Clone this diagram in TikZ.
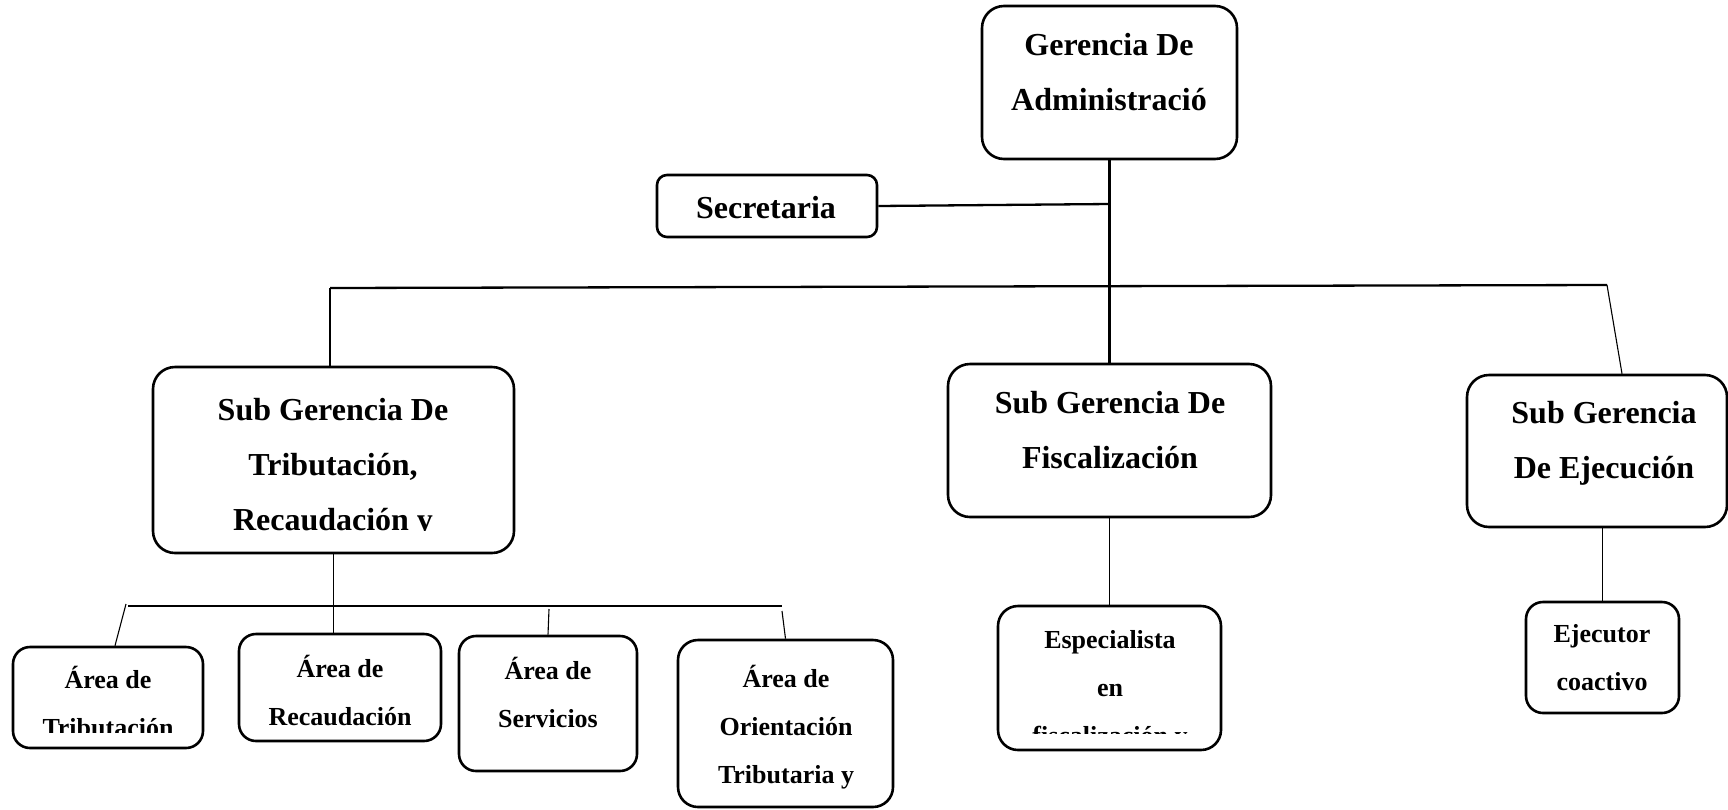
\documentclass[tikz,border=0pt]{standalone}
\usepackage{fontspec}
\setmainfont{Liberation Serif}
\usetikzlibrary{calc}

\begin{document}
\begin{tikzpicture}[x=1pt,y=-1pt,
    box/.style={draw,line width=2.6pt,rounded corners=22pt,inner sep=0pt},
    bigtext/.style={font=\fontsize{32}{55}\selectfont\bfseries,align=center,anchor=base,inner sep=0pt},
    smalltext/.style={font=\fontsize{26}{48}\selectfont\bfseries,align=center,anchor=base,inner sep=0pt},
    thickline/.style={line width=2.3pt},
    thinline/.style={line width=1.1pt}]
       \useasboundingbox (0,0) rectangle (1728,809);
       % boxes
       \node[box,minimum width=255pt,minimum height=153pt] (ger)     at (1109.5, 82.5) {};
       \node[box,minimum width=220pt,minimum height=62pt,rounded corners=10pt] (sec) at (767,206) {};
       \node[box,minimum width=361pt,minimum height=186pt] (subtrib) at ( 333.5,460  ) {};
       \node[box,minimum width=323pt,minimum height=153pt] (subfis)  at (1109.5,440.5) {};
       \node[box,minimum width=260pt,minimum height=152pt] (subeje)  at (1597  ,451  ) {};
       \node[box,minimum width=190pt,minimum height=101pt,rounded corners=17pt] (atrib) at ( 108  ,697.5) {};
       \node[box,minimum width=202pt,minimum height=107pt,rounded corners=17pt] (arec)  at ( 340  ,687.5) {};
       \node[box,minimum width=178pt,minimum height=135pt,rounded corners=17pt] (aserv) at ( 548  ,703.5) {};
       \node[box,minimum width=215pt,minimum height=167pt,rounded corners=20pt] (aori)  at ( 785.5,723.5) {};
       \node[box,minimum width=223pt,minimum height=144pt,rounded corners=20pt] (esp)   at (1109.5,678  ) {};
       \node[box,minimum width=153pt,minimum height=111pt,rounded corners=17pt] (ejec)  at (1602.5,657.5) {};
       % texts (placed at the baseline of their last line)
       \node[bigtext] (gertxt) at (1109,110) {Gerencia De\\Administració};
       \node[bigtext] (sectxt) at (766,218) {Secretaria};
       \begin{scope}
         \clip (153,367) rectangle (514,530.5);
         \node[bigtext] (subtribtxt) at (333,530) {Sub Gerencia De\\Tributación,\\Recaudación y};
       \end{scope}
       \node[bigtext] (subfistxt) at (1110,468) {Sub Gerencia De\\Fiscalización};
       \node[bigtext] (subejetxt) at (1604,478) {Sub Gerencia\\De Ejecución};
       \begin{scope}
         \clip (13,647) rectangle (203,732);
         \node[smalltext] (atribtxt) at (108,736) {Área de\\Tributación};
       \end{scope}
       \node[smalltext] (arectxt)  at (340,725) {Área de\\Recaudación};
       \node[smalltext] (aservtxt) at (548,727) {Área de\\Servicios};
       \node[smalltext] (aoritxt)  at (786,783) {Área de\\Orientación\\Tributaria y};
       \begin{scope}
         \clip (998,606) rectangle (1221,733);
         \node[smalltext] (esptxt) at (1110,744) {Especialista\\en\\fiscalización y};
       \end{scope}
       \node[smalltext] (ejectxt) at (1602,690) {Ejecutor\\coactivo};
       % bus points
       \coordinate (busL) at (330,288);
       \coordinate (busR) at (1607,285);
       \coordinate (secR) at (1110,204);
       \coordinate (sbL)  at (128,606);
       \coordinate (sbR)  at (782,606);
       \coordinate (servT) at (549,609);
       \coordinate (oriT)  at (782,611);
       \coordinate (tribT) at (126,604);
       % connectors
       \draw[thickline] (ger.south) -- (subfis.north);
       \draw[thickline] (sec.east) -- (secR);
       \draw[thickline] (busL) -- (busR);
       \draw[thinline] (busL) -- (busL |- subtrib.north);
       \draw[thinline] (busR) -- ([xshift=25pt]subeje.north);
       \draw[thinline] (subtrib.south) -- (subtrib.south |- arec.north);
       \draw[line width=1.3pt] (sbL) -- (sbR);
       \draw[thinline] (tribT) -- ([xshift=7pt]atrib.north);
       \draw[thinline] (servT) -- (aserv.north);
       \draw[thinline] (oriT) -- (aori.north);
       \draw[thinline] (subfis.south) -- (esp.north);
       \draw[thinline] (ejec.north |- subeje.south) -- (ejec.north);
      \end{tikzpicture}
\end{document}
